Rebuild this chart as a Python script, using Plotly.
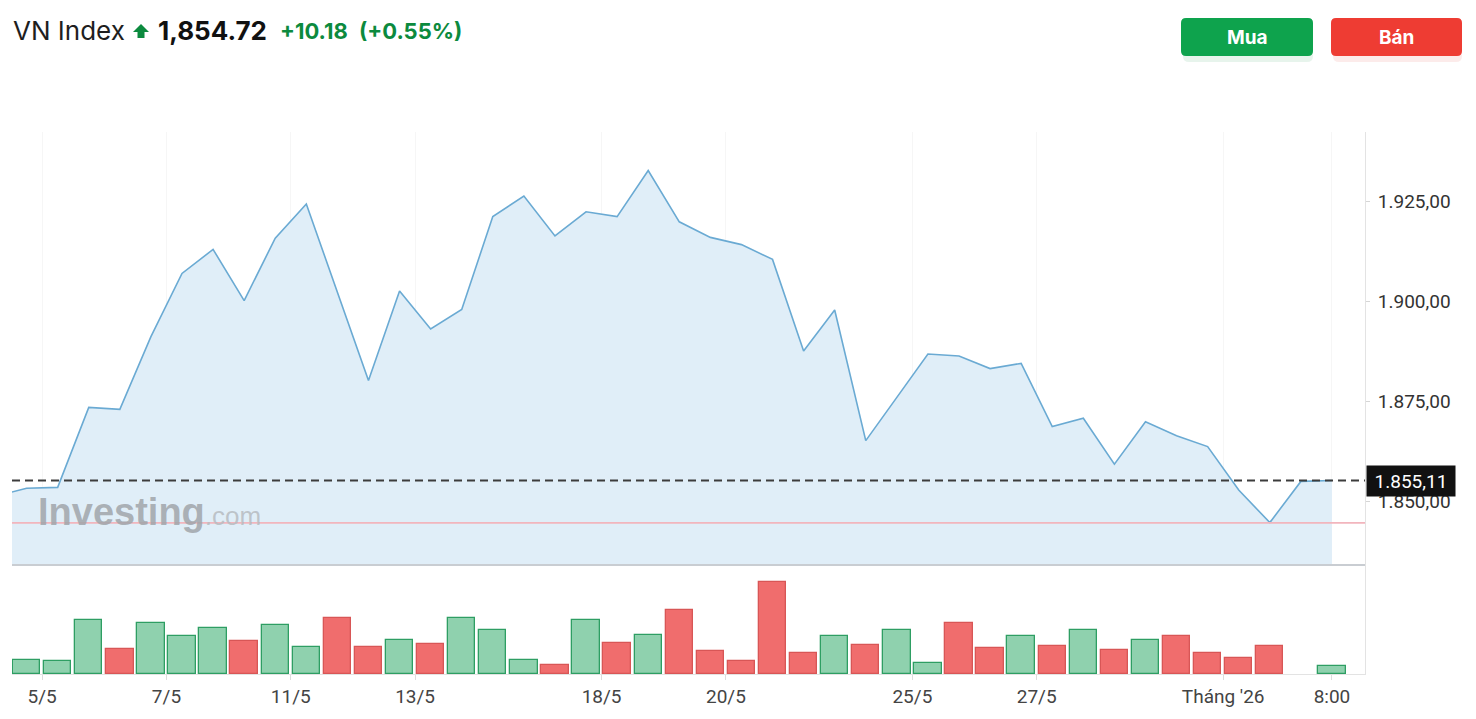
import plotly.graph_objects as go

# ---------------- data ----------------
prev_point = 1851.2  # partially visible point before the first full session
close = [1853.2, 1853.4, 1873.4, 1872.9, 1891.1, 1906.9, 1912.9, 1900.1, 1915.7, 1924.25,
         1902.2, 1880.1, 1902.5, 1893.0, 1897.9, 1921.1, 1926.25, 1916.25, 1922.3, 1921.1,
         1932.6, 1919.8, 1915.9, 1914.1, 1910.4, 1887.5, 1897.75, 1865.1, 1875.9, 1886.75,
         1886.25, 1883.1, 1884.4, 1868.6, 1870.7, 1859.2, 1869.8, 1866.3, 1863.6, 1852.75,
         1844.6, 1854.9, 1855.11]
volume = [144, 127, 540, 247, 507, 377, 457, 327, 490, 274,
          557, 274, 344, 297, 557, 444, 144, 94, 540, 314,
          394, 640, 230, 127, 920, 210, 377, 294, 444, 110,
          510, 260, 377, 277, 444, 244, 344, 377, 210, 160,
          277, None, 77]
tick_pos = [0.5, 4.5, 8.5, 12.5, 18.5, 22.5, 28.5, 32.5, 38.5, 42]
tick_text = ["5/5", "7/5", "11/5", "13/5", "18/5", "20/5", "25/5", "27/5", "Tháng '26", "8:00"]
y_tick_vals = [1850, 1875, 1900, 1925]
y_tick_text = ["1.850,00", "1.875,00", "1.900,00", "1.925,00"]
last_price = 1855.11
prev_close = 1844.54
header_name = "VN Index"
header_price = "1,854.72"
header_change = "+10.18"
header_pct = "(+0.55%)"

# ---------------- layout helpers ----------------
W, H = 1476, 719
L, R, T, B = 12, 111, 132, 45
PW, PH = W - L - R, H - T - B


def X(px):
    return (px - L) / PW


def Y(py):
    return (H - B - py) / PH


def rrect(x0, y0, x1, y1, r):
    return (f"M {X(x0 + r)},{Y(y0)} L {X(x1 - r)},{Y(y0)} Q {X(x1)},{Y(y0)} {X(x1)},{Y(y0 + r)} "
            f"L {X(x1)},{Y(y1 - r)} Q {X(x1)},{Y(y1)} {X(x1 - r)},{Y(y1)} "
            f"L {X(x0 + r)},{Y(y1)} Q {X(x0)},{Y(y1)} {X(x0)},{Y(y1 - r)} "
            f"L {X(x0)},{Y(y0 + r)} Q {X(x0)},{Y(y0)} {X(x0 + r)},{Y(y0)} Z")


GREEN_FILL = "#8fd1ae"
GREEN_LINE = "#2e9e63"
RED_FILL = "#f06d6d"
RED_LINE = "#d85656"

series = [prev_point] + close
bar_fill, bar_line = [], []
for i, c in enumerate(close):
    up = c >= series[i]
    bar_fill.append(GREEN_FILL if up else RED_FILL)
    bar_line.append(GREEN_LINE if up else RED_LINE)

fig = go.Figure()
fig.add_trace(go.Scatter(
    x=list(range(-1, len(close))), y=series, mode="lines",
    line=dict(color="#6aaad3", width=1.6), fill="tozeroy", fillcolor="#e0eef8",
    xaxis="x", yaxis="y", hoverinfo="skip", showlegend=False))
fig.add_trace(go.Bar(
    x=list(range(len(close))), y=volume, width=0.88,
    marker=dict(color=bar_fill, line=dict(color=bar_line, width=1.3)),
    xaxis="x2", yaxis="y2", hoverinfo="skip", showlegend=False))

xr = [(L - 26.6) / 31.08, (L + PW - 26.6) / 31.08]
fig.update_layout(
    width=W, height=H, margin=dict(l=L, r=R, t=T, b=B),
    paper_bgcolor="white", plot_bgcolor="white",
    font=dict(family="Roboto, sans-serif", color="#333"),
    xaxis=dict(domain=[0, 1], anchor="y", range=xr, tickvals=tick_pos, showticklabels=False,
               ticks="", showgrid=True, gridcolor="rgba(0,0,0,0.035)", zeroline=False,
               showline=True, linecolor="#c9cdd2", linewidth=2),
    yaxis=dict(domain=[Y(564), 1], anchor="x", side="right", range=[1925 - (564 - 201) / 4, 1925 - (132 - 201) / 4],
               tickvals=y_tick_vals, ticktext=y_tick_text, showgrid=False, zeroline=False,
               showline=True, linecolor="#e3e3e3", linewidth=1, ticks="outside", ticklen=4,
               tickcolor="#d6d6d6", tickfont=dict(size=19, color="#333", family="Roboto"),
               ticklabelstandoff=4),
    xaxis2=dict(domain=[0, 1], anchor="y2", matches="x", range=xr, tickvals=tick_pos, ticktext=tick_text,
                tickfont=dict(size=19, color="#444", family="Roboto"), ticks="outside", ticklen=5,
                tickcolor="#dddddd", showgrid=False, zeroline=False, showline=True,
                linecolor="#e3e3e3", linewidth=1),
    yaxis2=dict(domain=[0, Y(564)], anchor="x2", side="right", range=[0, Y(564) * PH * 10],
                showticklabels=False, showgrid=False, zeroline=False, showline=True,
                linecolor="#e3e3e3", ticks=""),
    bargap=0,
)

shapes = [
    dict(type="line", xref="paper", yref="y", x0=0, x1=1, y0=prev_close, y1=prev_close,
         line=dict(color="#f2b5bd", width=1.6), layer="above"),
    dict(type="line", xref="paper", yref="y", x0=0, x1=1, y0=last_price, y1=last_price,
         line=dict(color="#3c3c3c", width=2, dash="8px,5px"), layer="above"),
    # buttons (shadow + body)
    dict(type="path", xref="paper", yref="paper", path=rrect(1183, 22, 1313, 62, 6),
         fillcolor="rgba(20,150,70,0.10)", line=dict(width=0), layer="above"),
    dict(type="path", xref="paper", yref="paper", path=rrect(1181, 18, 1313, 56, 5),
         fillcolor="#0ea34d", line=dict(width=0), layer="above"),
    dict(type="path", xref="paper", yref="paper", path=rrect(1333, 22, 1462, 62, 6),
         fillcolor="rgba(230,60,50,0.10)", line=dict(width=0), layer="above"),
    dict(type="path", xref="paper", yref="paper", path=rrect(1331, 18, 1462, 56, 5),
         fillcolor="#ee3c33", line=dict(width=0), layer="above"),
    # green up arrow in header
    dict(type="path", xref="paper", yref="paper",
         path=(f"M {X(133)},{Y(32)} L {X(141)},{Y(24)} L {X(149)},{Y(32)} L {X(144.5)},{Y(32)} "
               f"L {X(144.5)},{Y(38)} L {X(137.5)},{Y(38)} L {X(137.5)},{Y(32)} Z"),
         fillcolor="#0c8a3e", line=dict(width=0), layer="above"),
]
fig.update_layout(shapes=shapes)

ann = [
    dict(text=header_name, x=X(11), y=Y(31), font=dict(family="Inter", size=26, color="#1e1e1e")),
    dict(text=f"<b>{header_price}</b>", x=X(156), y=Y(31), font=dict(family="Inter", size=26, color="#111")),
    dict(text=f"<b>{header_change}</b>", x=X(278), y=Y(31), font=dict(family="Inter", size=22, color="#0c8a3e")),
    dict(text=f"<b>{header_pct}</b>", x=X(357), y=Y(31), font=dict(family="Inter", size=22, color="#0c8a3e")),
    dict(text="<b>Investing</b><span style='font-size:26px;color:#b7bcc1'>.com</span>", x=X(36), y=Y(512),
         font=dict(family="Liberation Sans", size=38, color="rgba(160,165,170,0.85)")),
]
annotations = []
for a in ann:
    a.update(xref="paper", yref="paper", xanchor="left", yanchor="middle", showarrow=False)
    annotations.append(a)
annotations += [
    dict(text="<b>Mua</b>", x=X(1247), y=Y(37), xref="paper", yref="paper", showarrow=False,
         xanchor="center", yanchor="middle", font=dict(family="Inter", size=19, color="white")),
    dict(text="<b>Bán</b>", x=X(1396.5), y=Y(37), xref="paper", yref="paper", showarrow=False,
         xanchor="center", yanchor="middle", font=dict(family="Inter", size=19, color="white")),
    dict(text="1.855,11", x=1, y=last_price, xref="paper", yref="y", xanchor="left", yanchor="middle",
         xshift=1, showarrow=False, bgcolor="#111111", width=84, height=26, borderpad=2,
         font=dict(family="Roboto", size=19, color="white")),
]
fig.update_layout(annotations=annotations)

fig.write_html("out.html")
